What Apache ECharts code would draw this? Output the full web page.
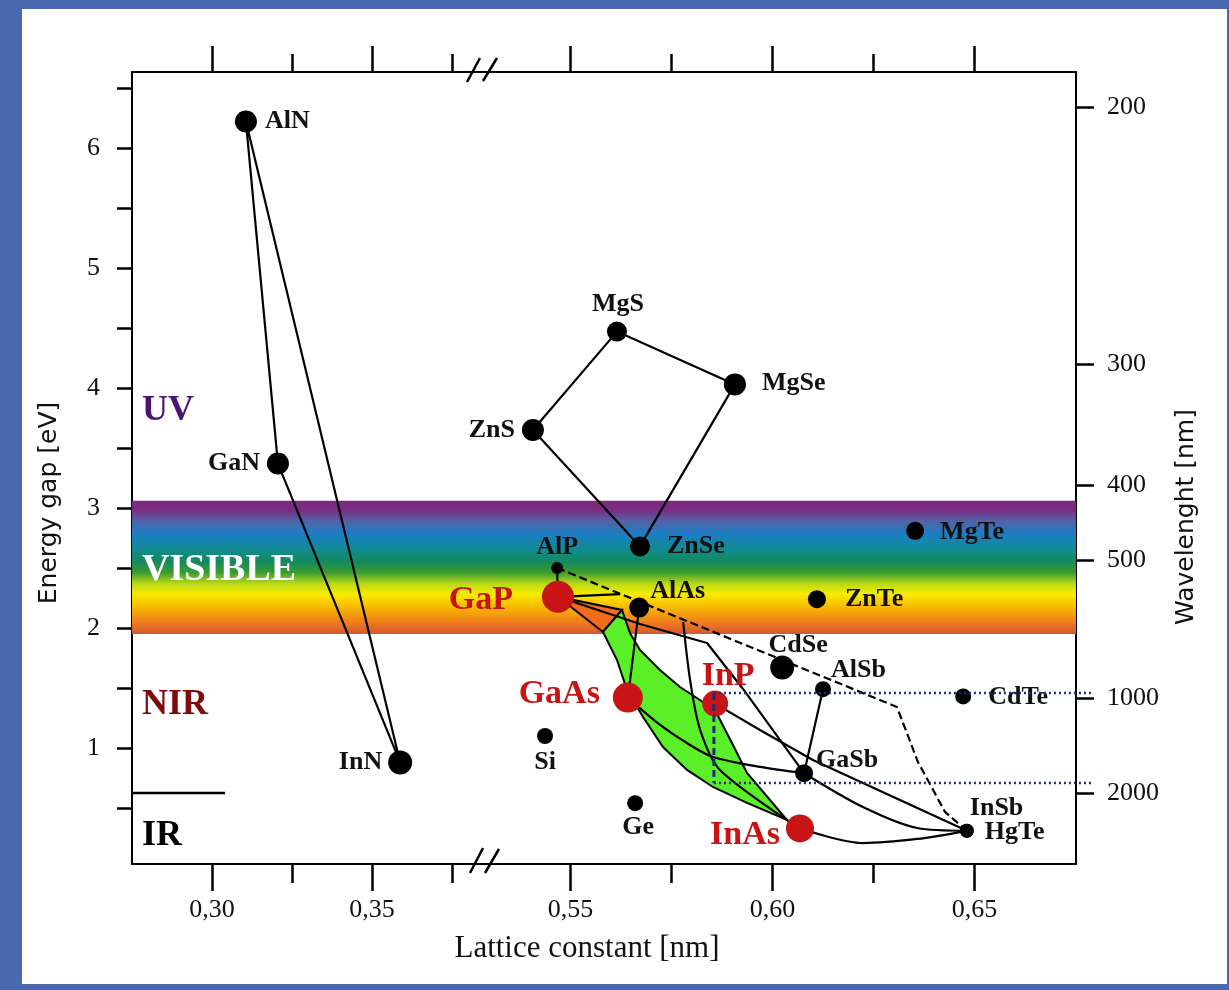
<!DOCTYPE html>
<html><head><meta charset="utf-8">
<script src="https://cdn.jsdelivr.net/npm/echarts@6/dist/echarts.min.js"></script>
<style>html,body{margin:0;padding:0;background:#fff}#c{width:1229px;height:990px}</style>
</head><body><div id="c"></div>
<script>
// ---------------- data ----------------
const nitrideNames   = ['AlN', 'GaN', 'InN'];
const nitrideLattice = [0.3106, 0.3206, 0.3588];
const nitrideGap     = [6.22, 3.37, 0.88];

const names   = ['MgS','MgSe','ZnS','ZnSe','AlP','GaP','AlAs','ZnTe','MgTe','CdSe','AlSb','CdTe','InP','GaAs','Si','GaSb','Ge','InAs','InSb','HgTe'];
const lattice = [0.5615,0.5907,0.5407,0.5672,0.5467,0.5469,0.5670,0.6110,0.6353,0.6024,0.6125,0.6472,0.5858,0.5642,0.5437,0.6078,0.5660,0.6068,0.6481,0.6481];
const gap     = [4.47,4.03,3.65,2.68,2.50,2.26,2.17,2.24,2.81,1.67,1.49,1.43,1.37,1.42,1.10,0.79,0.54,0.33,0.31,0.31];
const redMaterials = ['GaP','GaAs','InP','InAs'];

const nitrideTriangle = ['AlN','GaN','InN','AlN'];
const straightTies = [
  ['ZnS','MgS','MgSe','ZnSe','ZnS'],
  ['AlP','GaP'],
  ['GaP',[0.5623,2.283]],
  ['GaP',[0.5672,2.033],[0.5838,1.875],[0.5927,1.492],'GaSb'],
  ['AlAs','GaAs'],
  ['InP',[0.5969,1.15],[0.6100,0.90],'HgTe'],
  ['AlSb','GaSb']
];
const curvedTies = [
  [[0.5779,2.05],[0.5796,1.567],[0.5821,1.15],[0.5870,0.817],'InAs'],
  ['GaAs',[0.5722,1.192],[0.5796,1.025],[0.5853,0.925],[0.5969,0.842],'GaSb'],
  ['GaSb',[0.6224,0.508],[0.6358,0.333],'HgTe'],
  ['InAs',[0.6224,0.208],[0.6358,0.242],'HgTe']
];
const dashedTie = ['AlP',[0.6308,1.342],[0.6360,0.883],[0.6427,0.467],'HgTe'];
const orangeArea = ['GaP',[0.56275,2.150],[0.55804,1.967]];
const greenArea = [[0.56275,2.150],[0.56473,1.958],[0.56720,1.817],[0.57215,1.650],[0.57710,1.508],[0.58205,1.400],[0.58601,1.300],[0.59022,1.025],[0.59369,0.792],[0.60359,0.400],[0.59369,0.542],[0.58527,0.675],[0.57884,0.817],[0.57290,1.008],[0.56795,1.258],[0.56399,1.483],[0.56151,1.733],[0.55804,1.967]];
const navyDotted = [[[0.5855,1.458],[0.6793,1.458]], [[0.5855,0.708],[0.6793,0.708]]];
const navyDashed = [[0.5855,1.458],[0.5855,0.708]];
const irBoundary = [[0.275,0.625],[0.3041,0.625]];
const visibleBand = [1.95, 3.06];

const regionLabels  = ['UV','VISIBLE','NIR','IR'];
const regionLattice = [0.2781,0.2781,0.2781,0.2781];
const regionGap     = [3.81,2.48,1.36,0.27];

const xTicksLeft = [0.30,0.35], xMinorLeft = [0.325,0.375], xTickLabelsLeft = ['0,30','0,35'];
const xTicksRight = [0.55,0.60,0.65], xMinorRight = [0.575,0.625], xTickLabelsRight = ['0,55','0,60','0,65'];
const energyTicks = [0.5,1,1.5,2,2.5,3,3.5,4,4.5,5,5.5,6,6.5];
const energyLabelValues = [1,2,3,4,5,6];
const energyTickLabels = ['1','2','3','4','5','6'];
const wavelengthPos = [0.625,1.417,2.567,3.19,4.2,6.34];
const wavelengthLabels = ['2000','1000','500','400','300','200'];

// ---------------- styles ----------------
const SERIF = 'Liberation Serif';
const RED = '#c81414';
const NAVY = '#1e2d78';
const markerSize = {AlN:22,GaN:22,InN:24,MgS:20,MgSe:22,ZnS:22,ZnSe:20,AlP:12,GaP:32,AlAs:20,ZnTe:18,MgTe:18,CdSe:24,AlSb:16,CdTe:16,InP:26,GaAs:30,Si:16,GaSb:18,Ge:16,InAs:28,InSb:14,HgTe:14};
const labelPlacement = {
  AlN:['left',19,0], GaN:['right',-18,0], InN:['right',-18,0],
  MgS:['center',1,-27], MgSe:['left',27,-1], ZnS:['right',-18,0], ZnSe:['left',27,0],
  AlP:['center',0,-21], GaP:['right',-45,3], AlAs:['left',11,-16], ZnTe:['left',28,0], MgTe:['left',25,1],
  CdSe:['center',16,-22], AlSb:['left',8,-19], CdTe:['left',25,1], InP:['center',13,-27], GaAs:['right',-28,-3],
  Si:['center',0,26], GaSb:['left',12,-13], Ge:['center',3,24], InAs:['right',-20,7], InSb:['left',3,-23], HgTe:['left',18,1]
};
const regionColors = ['#4b1672','#ffffff','#7d0b0b','#000000'];
const regionSizes = [36,38,36,36];

function P(n){ if (Array.isArray(n)) return n; const i = names.indexOf(n); return [lattice[i], gap[i]]; }
function PN(n){ const i = nitrideNames.indexOf(n); return [nitrideLattice[i], nitrideGap[i]]; }
function lookup(vals, labs){ return v => { const i = vals.findIndex(x => Math.abs(x - v) < 1e-6); return i >= 0 ? labs[i] : ''; }; }

const tickFont = {fontFamily: SERIF, fontSize: 26, color: '#111'};
const axLine = {show: true, lineStyle: {color: '#000', width: 2}};
const noLine = {show: false};

function xAxesFor(grid, min, max, major, minor, labels){
  return [
    {gridIndex: grid, type: 'value', min, max, position: 'bottom', axisLine: axLine, splitLine: {show:false},
     axisTick: {show:true, customValues: major, length: 27, lineStyle:{color:'#000', width:2.5}},
     axisLabel: {show:true, customValues: major, formatter: lookup(major, labels), margin: 33, ...tickFont}},
    {gridIndex: grid, type: 'value', min, max, position: 'bottom', axisLine: noLine, splitLine: {show:false},
     axisTick: {show:true, customValues: minor, length: 19, lineStyle:{color:'#000', width:2.5}}, axisLabel: {show:false}},
    {gridIndex: grid, type: 'value', min, max, position: 'top', axisLine: axLine, splitLine: {show:false},
     axisTick: {show:true, customValues: major, length: 26, lineStyle:{color:'#000', width:2.5}}, axisLabel: {show:false}},
    {gridIndex: grid, type: 'value', min, max, position: 'top', axisLine: noLine, splitLine: {show:false},
     axisTick: {show:true, customValues: minor, length: 18, lineStyle:{color:'#000', width:2.5}}, axisLabel: {show:false}}
  ];
}

const bandGradient = {type:'linear', x:0, y:0, x2:0, y2:1, colorStops:[
  {offset:0, color:'#7d2a7e'},{offset:0.07, color:'#7a2d82'},{offset:0.15, color:'#5262a6'},
  {offset:0.25, color:'#1c7ec4'},{offset:0.36, color:'#118a95'},{offset:0.46, color:'#148a5a'},
  {offset:0.54, color:'#3c9c2e'},{offset:0.62, color:'#b8d818'},{offset:0.70, color:'#f8ec00'},
  {offset:0.80, color:'#f8b800'},{offset:0.92, color:'#f07820'},{offset:1, color:'#d05a30'}]};

function bandSeries(xi, yi){
  return {type:'line', xAxisIndex: xi, yAxisIndex: yi, data: [], z: 1, silent: true,
    markArea: {silent: true, itemStyle: {color: bandGradient, opacity: 1}, data: [[{xAxis:'min', yAxis: visibleBand[0]}, {xAxis:'max', yAxis: visibleBand[1]}]]}};
}
function polySeries(pts, fill){
  return {type:'custom', xAxisIndex: 4, yAxisIndex: 1, z: 2, silent: true, data: [0],
    renderItem: (params, api) => ({type:'polygon', shape:{points: pts.map(p => api.coord(P(p)))},
      style:{fill: fill, stroke:'#000', lineWidth: 2}})};
}
function lineSeries(xi, yi, pts, style, extra){
  return Object.assign({type:'line', xAxisIndex: xi, yAxisIndex: yi, data: pts, symbol:'none', silent: true, z: 3,
    lineStyle: Object.assign({color:'#000', width: 2.2}, style)}, extra || {});
}
// unclipped segment drawn through the axes (the dotted guides run past the right axis)
function guideSeries(seg, dash, width){
  return {type:'custom', xAxisIndex: 4, yAxisIndex: 1, z: 6, silent: true, clip: false, data: [0],
    renderItem: (params, api) => {
      const a = api.coord(seg[0]), b = api.coord(seg[1]);
      return {type:'line', shape:{x1:a[0], y1:a[1], x2:b[0], y2:b[1]}, style:{stroke: NAVY, lineWidth: width, lineDash: dash}};
    }};
}
function pointItem(name, value){
  const red = redMaterials.includes(name);
  const lp = labelPlacement[name];
  return {name, value, symbolSize: markerSize[name], itemStyle: {color: red ? RED : '#000', opacity: 1},
    label: {show: true, position: 'inside', formatter: name, align: lp[0], verticalAlign: 'middle', offset: [lp[1], lp[2]],
      color: red ? RED : '#111', fontFamily: SERIF, fontWeight: 'bold', fontSize: red ? 34 : 26}};
}

const series = [
  bandSeries(0, 0), bandSeries(4, 1),
  polySeries(orangeArea, '#f26a1c'),
  polySeries(greenArea, '#5bef2a'),
  lineSeries(0, 0, nitrideTriangle.map(PN)),
  lineSeries(0, 0, irBoundary, {width: 2.5}),
  ...straightTies.map(l => lineSeries(4, 1, l.map(P))),
  ...curvedTies.map(l => lineSeries(4, 1, l.map(P), {}, {smooth: 0.3})),
  lineSeries(4, 1, dashedTie.map(P), {type: [8, 4]}),
  {type:'scatter', xAxisIndex: 0, yAxisIndex: 0, z: 4, silent: true, symbol: 'circle',
   data: nitrideNames.map((n, i) => pointItem(n, [nitrideLattice[i], nitrideGap[i]]))},
  {type:'scatter', xAxisIndex: 4, yAxisIndex: 1, z: 4, silent: true, symbol: 'circle',
   data: names.map((n, i) => pointItem(n, [lattice[i], gap[i]]))},
  ...navyDotted.map(seg => guideSeries(seg, [2, 3], 2.5)),
  guideSeries(navyDashed, [7, 4], 3),
  {type:'scatter', xAxisIndex: 0, yAxisIndex: 0, z: 5, silent: true, symbolSize: 1, itemStyle: {opacity: 0},
   data: regionLabels.map((n, i) => ({name: n, value: [regionLattice[i], regionGap[i]],
     label: {show: true, position: 'inside', align: 'left', verticalAlign: 'middle', formatter: n, opacity: 1,
       color: regionColors[i], fontFamily: SERIF, fontWeight: 'bold', fontSize: regionSizes[i]}}))}
];

const chart = echarts.init(document.getElementById('c'), null, {renderer: 'canvas'});
chart.setOption({
  animation: false,
  backgroundColor: '#4a68b0',
  grid: [
    {left: 132, right: 1229 - 485, top: 72, bottom: 126, containLabel: false},
    {left: 485, right: 1229 - 1076, top: 72, bottom: 126, containLabel: false}
  ],
  xAxis: [
    ...xAxesFor(0, 0.275, 0.38531, xTicksLeft, xMinorLeft, xTickLabelsLeft),
    ...xAxesFor(1, 0.52884, 0.67512, xTicksRight, xMinorRight, xTickLabelsRight)
  ],
  yAxis: [
    {gridIndex: 0, type: 'value', min: 0.0333, max: 6.6333, position: 'left', axisLine: axLine, splitLine: {show:false},
     axisTick: {show: true, customValues: energyTicks, length: 15, lineStyle:{color:'#000', width:2.5}},
     axisLabel: {show: true, customValues: energyLabelValues, formatter: lookup(energyLabelValues, energyTickLabels), margin: 32, ...tickFont}},
    {gridIndex: 1, type: 'value', min: 0.0333, max: 6.6333, position: 'right', axisLine: axLine, splitLine: {show:false},
     axisTick: {show: true, customValues: wavelengthPos, length: 18, lineStyle:{color:'#000', width:2.5}},
     axisLabel: {show: true, customValues: wavelengthPos, formatter: lookup(wavelengthPos, wavelengthLabels), margin: 31, ...tickFont}}
  ],
  graphic: [
    {type:'rect', z: -10, silent: true, shape:{x: 22, y: 9, width: 1205, height: 975}, style:{fill:'#ffffff'}},
    {type:'line', z: 50, silent: true, shape:{x1:467, y1:82, x2:480, y2:58}, style:{stroke:'#000', lineWidth:2.5}},
    {type:'line', z: 50, silent: true, shape:{x1:483, y1:81, x2:497, y2:58}, style:{stroke:'#000', lineWidth:2.5}},
    {type:'line', z: 50, silent: true, shape:{x1:470, y1:873, x2:483, y2:848}, style:{stroke:'#000', lineWidth:2.5}},
    {type:'line', z: 50, silent: true, shape:{x1:485, y1:873, x2:499, y2:849}, style:{stroke:'#000', lineWidth:2.5}},
    {type:'text', z: 50, silent: true, x: 49, y: 503, rotation: Math.PI / 2,
     style:{text:'Energy gap [eV]', font: '25px "DejaVu Sans"', fill:'#111', align:'center', verticalAlign:'middle'}},
    {type:'text', z: 50, silent: true, x: 1186, y: 517, rotation: Math.PI / 2,
     style:{text:'Wavelenght [nm]', font: '25px "DejaVu Sans"', fill:'#111', align:'center', verticalAlign:'middle'}},
    {type:'text', z: 50, silent: true, x: 587, y: 949,
     style:{text:'Lattice constant [nm]', font: '31px "Liberation Serif"', fill:'#111', align:'center', verticalAlign:'middle'}}
  ],
  series
});
</script></body></html>
